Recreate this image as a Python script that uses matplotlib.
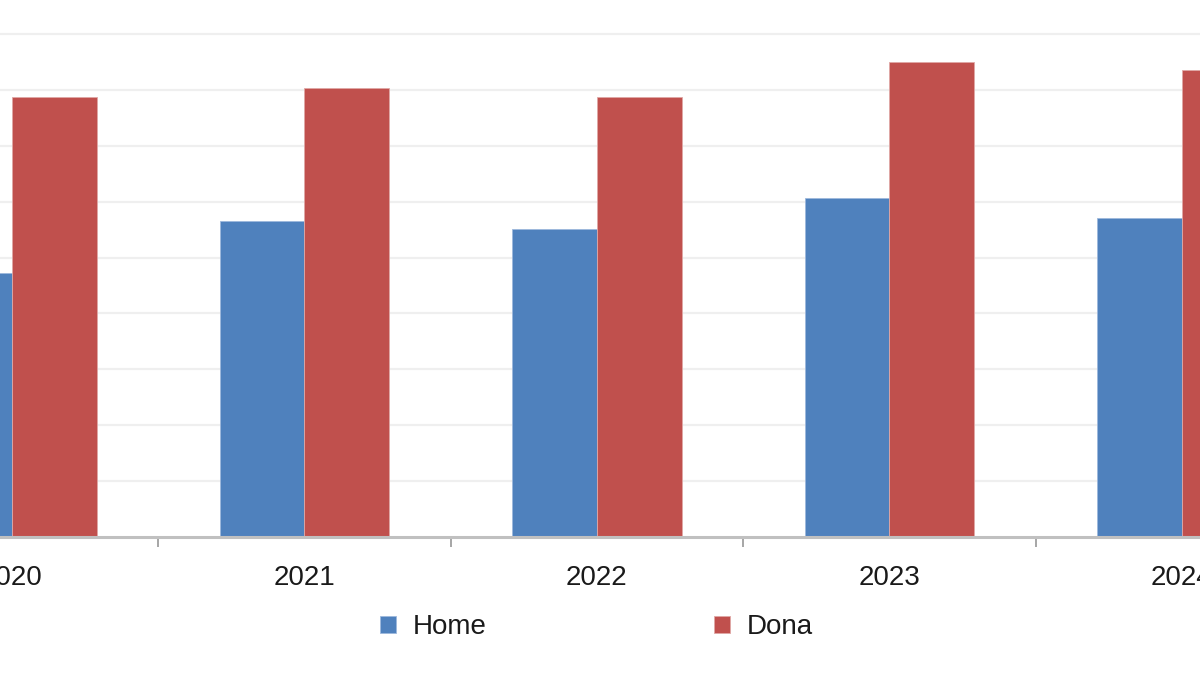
import numpy as np
import matplotlib
matplotlib.use("Agg")
import matplotlib.pyplot as plt

years = ["2020", "2021", "2022", "2023", "2024"]
home = [4.72, 5.65, 5.51, 6.06, 5.71]
dona = [7.87, 8.04, 7.87, 8.50, 8.35]

blue = "#4f81bd"
red = "#c0504d"

plt.rcParams["font.family"] = ["Liberation Sans", "DejaVu Sans"]

fig = plt.figure(figsize=(12, 6.75), dpi=100)
ax = fig.add_axes([0, 0.2044, 1, 0.7956])

x = np.arange(len(years))
w = 0.29
ax.bar(x - w / 2, home, w, color=blue, edgecolor="#9db8dc", linewidth=0.6, label="Home", zorder=3)
ax.bar(x + w / 2, dona, w, color=red, edgecolor="#e0a8a6", linewidth=0.6, label="Dona", zorder=3)

ax.set_xlim(-0.041, 4.062)
ax.set_ylim(0, 9.606)

ax.set_yticks(np.arange(1, 10))
ax.yaxis.grid(True, color="#efefef", linewidth=1.6)
ax.set_axisbelow(True)
ax.tick_params(axis="y", left=False, labelleft=False)

ax.set_xticks(x)
ax.set_xticklabels(years)
ax.set_xticks(x[:-1] + 0.5, minor=True)
ax.tick_params(axis="x", which="major", length=0, pad=20, labelsize=20, labelcolor="#1a1a1a")
ax.tick_params(axis="x", which="minor", length=7, width=1.4, color="#a6a6a6", direction="out")

for side in ["top", "left", "right"]:
    ax.spines[side].set_visible(False)
ax.spines["bottom"].set_color("#c0c0c0")
ax.spines["bottom"].set_linewidth(2.2)
ax.spines["bottom"].set_zorder(4)

fig.legend(loc="center", bbox_to_anchor=(0.497, 0.071), ncol=2, frameon=False,
           fontsize=20, handlelength=0.58, handleheight=0.58, handletextpad=0.58,
           columnspacing=8.2, labelcolor="#1a1a1a")

fig.savefig("out.png", dpi=100)
